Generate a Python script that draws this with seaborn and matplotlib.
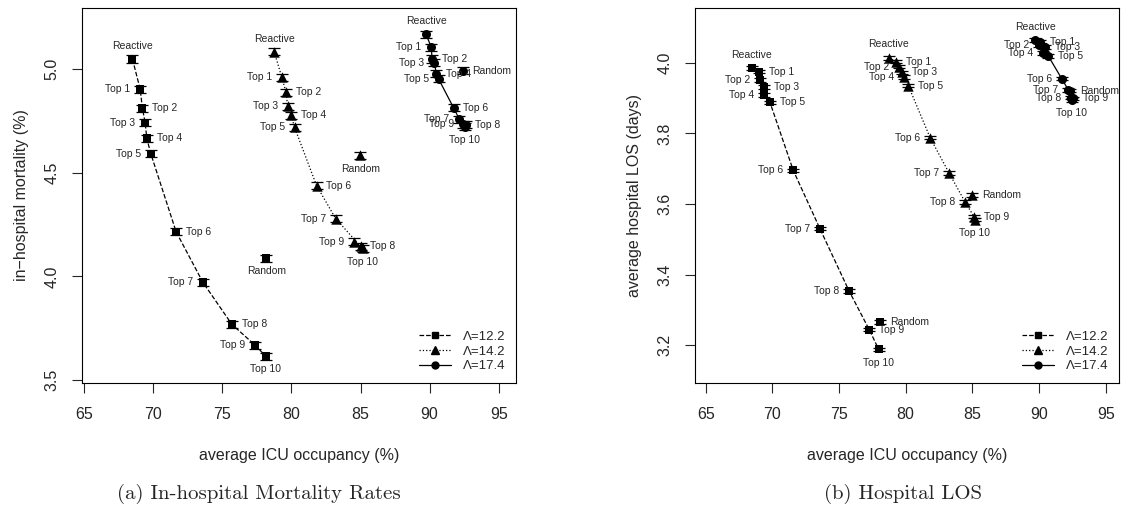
import matplotlib
matplotlib.use('Agg')
import matplotlib.pyplot as plt
from matplotlib.lines import Line2D
import seaborn as sns

# data
labels = ['Reactive', 'Top 1', 'Top 2', 'Top 3', 'Top 4', 'Top 5', 'Top 6',
          'Top 7', 'Top 8', 'Top 9', 'Top 10', 'Random']
lambdas = ['Λ=12.2', 'Λ=14.2', 'Λ=17.4']

# (a) in-hospital mortality
mort_x_122 = [68.50, 69.06, 69.22, 69.42, 69.54, 69.83, 71.66, 73.59, 75.69, 77.36, 78.13, 78.18]
mort_y_122 = [5.048, 4.902, 4.810, 4.741, 4.665, 4.591, 4.215, 3.972, 3.769, 3.669, 3.616, 4.088]
mort_x_142 = [78.76, 79.31, 79.62, 79.72, 79.99, 80.23, 81.82, 83.20, 85.00, 84.50, 85.15, 84.99]
mort_y_142 = [5.082, 4.959, 4.887, 4.821, 4.776, 4.718, 4.438, 4.279, 4.145, 4.167, 4.135, 4.583]
mort_x_174 = [89.74, 90.13, 90.17, 90.34, 90.49, 90.65, 91.74, 92.15, 92.60, 92.45, 92.55, 92.39]
mort_y_174 = [5.167, 5.104, 5.048, 5.029, 4.977, 4.952, 4.812, 4.758, 4.731, 4.733, 4.722, 4.992]
mort_ci = [0.017, 0.017, 0.017]

# (b) hospital LOS
los_x_122 = [68.47, 69.00, 69.07, 69.40, 69.37, 69.82, 71.57, 73.57, 75.75, 77.27, 77.98, 78.08]
los_y_122 = [3.985, 3.975, 3.951, 3.932, 3.909, 3.888, 3.695, 3.530, 3.354, 3.244, 3.188, 3.266]
los_x_142 = [78.75, 79.28, 79.52, 79.72, 79.88, 80.20, 81.83, 83.25, 84.45, 85.13, 85.20, 85.00]
los_y_142 = [4.014, 4.003, 3.989, 3.973, 3.959, 3.935, 3.788, 3.688, 3.606, 3.564, 3.556, 3.625]
los_x_174 = [89.70, 90.08, 90.03, 90.45, 90.28, 90.70, 91.70, 92.20, 92.38, 92.58, 92.45, 92.33]
los_y_174 = [4.064, 4.060, 4.050, 4.044, 4.027, 4.019, 3.955, 3.923, 3.901, 3.899, 3.894, 3.921]
los_ci = [0.005, 0.005, 0.005]

# where each point label sits
pos_mort_a = ['above', 'left', 'right', 'left', 'right', 'left', 'right', 'left', 'right', 'left', 'below', 'below']
pos_mort_b = ['above', 'left', 'right', 'left', 'right', 'left', 'right', 'left', 'right', 'left', 'below', 'right']
pos_los = ['above', 'right', 'left', 'right', 'left', 'right', 'left', 'left', 'left', 'right', 'below', 'right']

sns.set_style('ticks')
plt.rcParams['font.family'] = ['Liberation Sans', 'DejaVu Sans']
plt.rcParams['axes.linewidth'] = 0.8

styles = [('--', 's', 6), (':', '^', 7.5), ('-', 'o', 6.5)]
offsets = {'above': (0, 6, 'center', 'bottom'), 'below': (0, -6, 'center', 'top'),
           'left': (-7, 0, 'right', 'center'), 'right': (7, 0, 'left', 'center')}


def panel(ax, series, ci, positions, ylabel, xlim, ylim, yticks):
    for (xs, ys), (ls, mk, ms), err, pos in zip(series, styles, ci, positions):
        # line through Reactive, Top 1 .. Top 10 (not Random)
        sns.lineplot(x=xs[:11], y=ys[:11], ax=ax, color='black', linestyle=ls,
                     linewidth=0.9, sort=False, estimator=None)
        ax.errorbar(xs, ys, yerr=err, fmt='none', ecolor='black', elinewidth=0.8,
                    capsize=4.5, capthick=0.9)
        sns.scatterplot(x=xs, y=ys, ax=ax, marker=mk, s=ms ** 2, color='black',
                        edgecolor='black', linewidth=0, zorder=3)
        for lab, x, y, p in zip(labels, xs, ys, pos):
            dx, dy, ha, va = offsets[p]
            ax.annotate(lab, (x, y), xytext=(dx, dy), textcoords='offset points',
                        ha=ha, va=va, fontsize=7.5)
    ax.set_xlim(*xlim)
    ax.set_ylim(*ylim)
    ax.set_xticks([65, 70, 75, 80, 85, 90, 95])
    ax.set_yticks(yticks)
    ax.set_yticklabels([f'{t:.1f}' for t in yticks], rotation=90, va='center')
    ax.tick_params(axis='both', direction='out', length=7, width=0.8, labelsize=11.5)
    ax.tick_params(axis='x', pad=10)
    ax.tick_params(axis='y', pad=9)
    ax.set_xlabel('average ICU occupancy (%)', fontsize=11.5)
    ax.set_ylabel(ylabel, fontsize=11.5)
    for s in ax.spines.values():
        s.set_visible(True)
        s.set_color('black')
    handles = [Line2D([], [], color='black', linestyle=ls, marker=mk, markersize=ms - 1.5,
                      linewidth=0.9) for ls, mk, ms in styles]
    ax.legend(handles, lambdas, loc='lower right', frameon=False, fontsize=9.5,
              handlelength=2.4, handletextpad=0.9, labelspacing=0.2, borderaxespad=0.4)


fig = plt.figure(figsize=(11.28, 5.18), dpi=100)
W, H = 1128, 518
ax1 = fig.add_axes([82 / W, 1 - 383 / H, (516 - 82) / W, (383 - 8) / H])
ax2 = fig.add_axes([695 / W, 1 - 383 / H, (1119 - 695) / W, (383 - 8) / H])

panel(ax1, [(mort_x_122, mort_y_122), (mort_x_142, mort_y_142), (mort_x_174, mort_y_174)],
      mort_ci, [pos_mort_a, pos_mort_a, pos_mort_b], 'in−hospital mortality (%)',
      (64.85, 96.25), (3.486, 5.294), [3.5, 4.0, 4.5, 5.0])
panel(ax2, [(los_x_122, los_y_122), (los_x_142, los_y_142), (los_x_174, los_y_174)],
      los_ci, [pos_los, pos_los, pos_los], 'average hospital LOS (days)',
      (64.2, 96.0), (3.093, 4.155), [3.2, 3.4, 3.6, 3.8, 4.0])

for ax in (ax1, ax2):
    ax.xaxis.set_label_coords(0.5, -(448 - 383) / 375)
ax1.yaxis.set_label_coords(-(82 - 29) / 434, 0.5)
ax2.yaxis.set_label_coords(-(695 - 642) / 424, 0.5)

fig.text(259 / W, 1 - 494 / H, '(a) In-hospital Mortality Rates', family='cmr10',
         fontsize=15, ha='center', va='center')
fig.text(903 / W, 1 - 494 / H, '(b) Hospital LOS', family='cmr10',
         fontsize=15, ha='center', va='center')

plt.savefig('out.png', dpi=100)
